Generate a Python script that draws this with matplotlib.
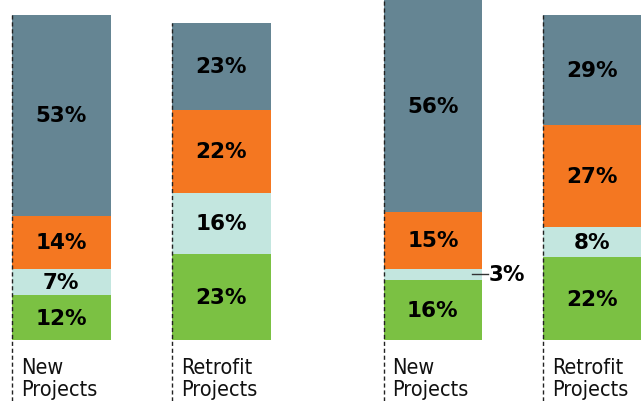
import matplotlib.pyplot as plt
import numpy as np

# ---------- data ----------
groups = ["New\nProjects", "Retrofit\nProjects", "New\nProjects", "Retrofit\nProjects"]
green = [12, 23, 16, 22]
teal = [7, 16, 3, 8]
orange = [14, 22, 15, 27]
slate = [53, 23, 56, 29]

C_GREEN = "#7bc143"
C_TEAL = "#c3e6df"
C_ORANGE = "#f47721"
C_SLATE = "#658593"

# ---------- layout (pixel-ish units) ----------
lefts = np.array([12, 172, 383.5, 543])
width = 98.5

fig = plt.figure(figsize=(6.41, 4.02), dpi=100)
ax = fig.add_axes([0, 0, 1, 1])
ax.set_xlim(0, 641)
ax.set_ylim(-16.0, 90.3)
ax.axis("off")

series = [(green, C_GREEN), (teal, C_TEAL), (orange, C_ORANGE), (slate, C_SLATE)]
bottom = np.zeros(len(groups))
for vals, col in series:
    vals = np.array(vals, dtype=float)
    ax.bar(lefts, vals, width=width, bottom=bottom, color=col, align="edge",
           linewidth=0, zorder=1)
    for i, (b, v) in enumerate(zip(bottom, vals)):
        if v >= 5:
            ax.text(lefts[i] + width / 2, b + v / 2, f"{v:.0f}%", ha="center",
                    va="center", fontsize=15.5, fontweight="bold", color="black",
                    zorder=3)
    bottom += vals

# small-segment callout (3%)
i = 2
y3 = green[i] + teal[i] / 2
ax.plot([lefts[i] + width - 10, lefts[i] + width + 5.5], [y3, y3], color="#333333",
        linewidth=1.0, zorder=3)
ax.text(lefts[i] + width + 7, y3, f"{teal[i]}%", ha="left", va="center",
        fontsize=15.5, fontweight="bold", color="black", zorder=3)

# dotted guide lines and category labels
totals = bottom
for x, top, lab in zip(lefts, totals, groups):
    ax.vlines(x, -16.0, top, colors="#222222", linestyles=(0, (3, 2)),
              linewidth=1.0, zorder=2)
    ax.text(x + 9, -4.4, lab, ha="left", va="top", fontsize=15.5,
            family="DejaVu Sans", fontstretch="condensed", color="#111111",
            linespacing=1.12)

fig.savefig("out.png", dpi=100)
